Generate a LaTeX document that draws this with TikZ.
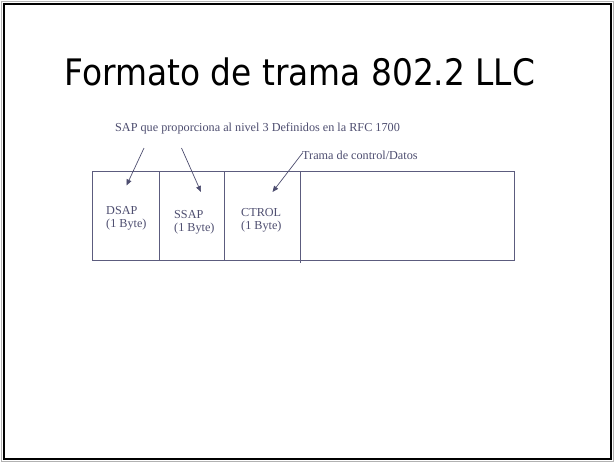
\documentclass[tikz,border=0pt]{standalone}
\usepackage{fontspec}
\setmainfont{Liberation Serif}
\newfontfamily\titlefont{DejaVu Sans Condensed}
\usetikzlibrary{arrows.meta}
\definecolor{ink}{HTML}{4E4E70}
\definecolor{boxline}{HTML}{5C5C7E}
\begin{document}
\begin{tikzpicture}[x=1pt,y=-1pt,
  field/.style={draw=boxline,line width=0.9pt,minimum height=89pt,inner sep=0pt,anchor=north west},
  small/.style={font=\fontsize{12.2}{13}\selectfont,text=ink,inner sep=0pt},
  pointer/.style={draw=ink,line width=0.7pt,-{Triangle[length=6pt,width=5pt]}}]
\useasboundingbox (0,0) rectangle (615,463);
\fill[white] (0,0) rectangle (615,463);
\draw[gray!60,line width=1pt] (1.5,1.5) rectangle (613.5,461.5);
\draw[black,line width=2pt] (4,4) rectangle (611,459);
% title
\node[anchor=base,inner sep=0pt,font=\titlefont\fontsize{36.5}{40}\selectfont] (title) at (300,85) {Formato de trama 802.2 LLC};
% fields
\node[field,minimum width=67pt] (dsap) at (92,170.5) {};
\node[field,minimum width=65pt] (ssap) at (159,170.5) {};
\node[field,minimum width=76pt] (ctrl) at (224,170.5) {};
\node[field,minimum width=214pt] (data) at (300,170.5) {};
\draw[boxline,line width=0.9pt] (data.south west) -- ++(0,2.5);
% labels
\node[small,align=left,anchor=base west] (ldsap) at (106,227) {DSAP\\(1 Byte)};
\node[small,align=left,anchor=base west] (lssap) at (174,231) {SSAP\\(1 Byte)};
\node[small,align=left,anchor=base west] (lctrl) at (241,229) {CTROL\\(1 Byte)};
\node[small,anchor=base west] (sap) at (115,131) {SAP que proporciona al nivel 3 Definidos en la RFC 1700};
\node[small,anchor=base west] (trama) at (302,159) {Trama de control/Datos};
% pointers
\coordinate (p1) at (144,148);
\coordinate (p2) at (181.5,148);
\coordinate (p3) at (302.5,153);
\coordinate (e1) at (126.5,185.5);
\coordinate (e2) at (201,192);
\coordinate (e3) at (272.5,192);
\draw[pointer] (p1) -- (e1);
\draw[pointer] (p2) -- (e2);
\draw[pointer] (p3) -- (e3);
\end{tikzpicture}
\end{document}
